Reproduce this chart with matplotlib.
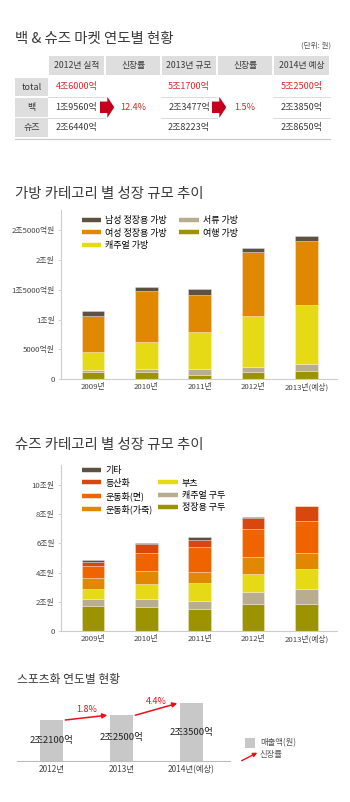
import matplotlib.pyplot as plt
from matplotlib.lines import Line2D
from matplotlib.patches import FancyArrow, Rectangle

plt.rcParams["font.family"] = ["Noto Sans CJK KR", "DejaVu Sans"]

W, H = 350, 802

# --- table data ---
table_cols = ["2012년 실적", "신장률", "2013년 규모", "신장률", "2014년 예상"]
table_rows = ["total", "백", "슈즈"]
sales_2012 = ["4조6000억", "1조9560억", "2조6440억"]
sales_2013 = ["5조1700억", "2조3477억", "2조8223억"]
sales_2014 = ["5조2500억", "2조3850억", "2조8650억"]
growth_rates = ["12.4%", "1.5%"]

# --- bag categories (억원) ---
years = ["2009년", "2010년", "2011년", "2012년", "2013년(예상)"]
bag_travel = [1200, 1170, 720, 1170, 1440]
bag_brief = [390, 500, 1000, 940, 1170]
bag_casual = [2960, 4640, 6260, 8490, 9890]
bag_women = [6080, 8530, 6140, 10720, 10710]
bag_men = [730, 560, 950, 670, 730]
bag_ticks = [0, 5000, 10000, 15000, 20000, 25000]
bag_ticklabels = ["0", "5000억원", "1조원", "1조5000억원", "2조원", "2조5000억원"]

# --- shoe categories (조원) ---
shoe_formal = [1.69, 1.64, 1.50, 1.87, 1.87]
shoe_casual = [0.48, 0.57, 0.57, 0.82, 1.02]
shoe_boots = [0.73, 1.02, 1.23, 1.23, 1.34]
shoe_leather = [0.75, 0.89, 0.72, 1.16, 1.09]
shoe_canvas = [0.79, 1.25, 1.71, 1.91, 2.20]
shoe_hiking = [0.32, 0.57, 0.53, 0.73, 1.02]
shoe_other = [0.12, 0.11, 0.16, 0.11, 0.0]
shoe_ticks = [0, 2, 4, 6, 8, 10]
shoe_ticklabels = ["0", "2조원", "4조원", "6조원", "8조원", "10조원"]

# --- sports shoes (조원) ---
sport_years = ["2012년", "2013년", "2014년(예상)"]
sport_sales = [2.21, 2.25, 2.35]
sport_labels = ["2조2100억", "2조2500억", "2조3500억"]
sport_growth = ["1.8%", "4.4%"]

OLIVE = "#9c9300"
TAN = "#b9ad90"
YELLOW = "#e6d915"
ORANGE = "#e08800"
BRIGHT = "#f06400"
REDOR = "#d8480e"
BROWN = "#5e5142"
RED = "#d42a2a"
TXT = "#3a3a3a"

fig = plt.figure(figsize=(W / 100, H / 100), dpi=100)


def px_axes(left, top, right, bottom):
    return fig.add_axes([left / W, 1 - bottom / H, (right - left) / W, (bottom - top) / H])


ov = fig.add_axes([0, 0, 1, 1])
ov.set_xlim(0, W)
ov.set_ylim(H, 0)
ov.axis("off")

# titles
ov.text(15, 39, "백 & 슈즈 마켓 연도별 현황", fontsize=10.4, color=TXT, va="center")
ov.text(331, 46, "(단위: 원)", fontsize=5.5, color="#555", ha="right", va="center")
ov.text(15, 194, "가방 카테고리 별 성장 규모 추이", fontsize=10.4, color=TXT, va="center")
ov.text(15, 445, "슈즈 카테고리 별 성장 규모 추이", fontsize=10.4, color=TXT, va="center")
ov.text(17, 679, "스포츠화 연도별 현황", fontsize=8.5, color=TXT, va="center")

# table
col_edges = [48, 105, 161, 217, 273, 330]
row_edges = [77, 97, 117.5, 138]
for i, name in enumerate(table_cols):
    x0, x1 = col_edges[i], col_edges[i + 1]
    ov.add_patch(Rectangle((x0 + 0.6, 56), x1 - x0 - 1.2, 19, color="#dedede", lw=0))
    ov.text((x0 + x1) / 2, 65.5, name, fontsize=6.3, color=TXT, ha="center", va="center")
for j, name in enumerate(table_rows):
    y0, y1 = row_edges[j], row_edges[j + 1]
    ov.add_patch(Rectangle((15, y0 + 0.6), 33, y1 - y0 - 1.2, color="#dedede", lw=0))
    ov.text(31.5, (y0 + y1) / 2, name, fontsize=6.5, color=TXT, ha="center", va="center")
    for c, vals in zip([0, 2, 4], [sales_2012, sales_2013, sales_2014]):
        x0, x1 = col_edges[c], col_edges[c + 1]
        ov.text((x0 + x1) / 2, (y0 + y1) / 2, vals[j], fontsize=6.5,
                color=RED if j == 0 else TXT, ha="center", va="center")
        if j < 2:
            ov.plot([x0, x1], [y1, y1], color="#d4d4d4", lw=0.6)
ov.plot([15, 330], [138.5, 138.5], color="#c8c8c8", lw=0.8)
for k, g in enumerate(growth_rates):
    c = 1 + 2 * k
    x0, x1 = col_edges[c], col_edges[c + 1]
    ov.text((x0 + x1) / 2, 107.3, g, fontsize=6.5, color=RED, ha="center", va="center")
    ov.add_patch(FancyArrow(x0 - 5, 107.3, 14.3, 0, width=11.5, head_width=21,
                            head_length=7, length_includes_head=True,
                            color="#c4001c", lw=0))

# bag chart
x = list(range(len(years)))
ax = px_axes(61, 210, 336.7, 379.3)
bottom = [0] * len(years)
bag_series = [("여행 가방", bag_travel, OLIVE), ("서류 가방", bag_brief, TAN),
              ("캐주얼 가방", bag_casual, YELLOW), ("여성 정장용 가방", bag_women, ORANGE),
              ("남성 정장용 가방", bag_men, BROWN)]
for name, vals, col in bag_series:
    ax.bar(x, vals, width=0.426, bottom=bottom, color=col,
           edgecolor=(1, 1, 1, 0.5), linewidth=0.4)
    bottom = [b + v for b, v in zip(bottom, vals)]
ax.set_xlim(-0.6, 4.57)
ax.set_ylim(0, 28340)
ax.set_yticks(bag_ticks)
ax.set_yticklabels(bag_ticklabels)
ax.set_xticks(x)
ax.set_xticklabels(years)

lab_order = ["남성 정장용 가방", "여성 정장용 가방", "캐주얼 가방", "서류 가방", "여행 가방"]
lookup = {n: c for n, _, c in bag_series}
handles = [Line2D([], [], color=lookup[n], lw=3.2, solid_capstyle="butt") for n in lab_order]
ax.legend(handles, lab_order, ncol=2, loc="upper left", bbox_to_anchor=(0.058, 0.99),
          frameon=False, fontsize=6.5, borderpad=0, handlelength=2.2,
          handletextpad=0.45, columnspacing=1.3, labelspacing=0.38)

# shoes chart
ax2 = px_axes(61, 465, 336.7, 631)
bottom = [0] * len(years)
shoe_series = [("정장용 구두", shoe_formal, OLIVE), ("캐주얼 구두", shoe_casual, TAN),
               ("부츠", shoe_boots, YELLOW), ("운동화(가죽)", shoe_leather, ORANGE),
               ("운동화(면)", shoe_canvas, BRIGHT), ("등산화", shoe_hiking, REDOR),
               ("기타", shoe_other, BROWN)]
for name, vals, col in shoe_series:
    ax2.bar(x, vals, width=0.426, bottom=bottom, color=col,
            edgecolor=(1, 1, 1, 0.5), linewidth=0.4)
    bottom = [b + v for b, v in zip(bottom, vals)]
ax2.set_xlim(-0.6, 4.57)
ax2.set_ylim(0, 11.37)
ax2.set_yticks(shoe_ticks)
ax2.set_yticklabels(shoe_ticklabels)
ax2.set_xticks(x)
ax2.set_xticklabels(years)

lookup = {n: c for n, _, c in shoe_series}
lab_order = ["기타", "등산화", "운동화(면)", "운동화(가죽)", "", "부츠", "캐주얼 구두", "정장용 구두"]
handles = [Line2D([], [], color=lookup[n], lw=3.2, solid_capstyle="butt") if n
           else Line2D([], [], lw=0) for n in lab_order]
ax2.legend(handles, lab_order, ncol=2, loc="upper left", bbox_to_anchor=(0.058, 1.02),
           frameon=False, fontsize=6.5, borderpad=0, handlelength=2.2,
           handletextpad=0.45, columnspacing=0.6, labelspacing=0.38)

for a in (ax, ax2):
    a.set_facecolor("none")
    for s in ("top", "right"):
        a.spines[s].set_visible(False)
    for s in ("left", "bottom"):
        a.spines[s].set_color("#cccccc")
        a.spines[s].set_linewidth(0.8)
    a.tick_params(axis="y", length=2, width=0.6, color="#cccccc", pad=2.5,
                  labelsize=5.6, labelcolor="#444")
    a.tick_params(axis="x", length=0, pad=3, labelsize=5.6, labelcolor="#444")

# sports shoes chart
ax3 = px_axes(16.7, 695, 230, 760.7)
sx = list(range(len(sport_years)))
ylo = 1.868
ax3.bar(sx, sport_sales, width=0.324, color="#c8c8c8")
ax3.set_xlim(-0.494, 2.553)
ax3.set_ylim(ylo, ylo + 65.7 / 119)
ax3.set_facecolor("none")
for s in ("top", "right", "left"):
    ax3.spines[s].set_visible(False)
ax3.spines["bottom"].set_color("#bbbbbb")
ax3.spines["bottom"].set_linewidth(0.8)
ax3.set_yticks([])
ax3.set_xticks(sx)
ax3.set_xticklabels(sport_years)
ax3.tick_params(axis="x", length=0, pad=3, labelsize=6, labelcolor="#444")
for i, (v, lab) in enumerate(zip(sport_sales, sport_labels)):
    ax3.text(i, (ylo + v) / 2, lab, fontsize=6.8, color="#222", ha="center", va="center")
for i, g in enumerate(sport_growth):
    ax3.annotate("", xy=(i + 0.8, sport_sales[i + 1]), xytext=(i + 0.2, sport_sales[i]),
                 arrowprops=dict(arrowstyle="-|>", color="#e8101a", lw=1.1,
                                 mutation_scale=7, shrinkA=0, shrinkB=0),
                 annotation_clip=False)
    ax3.text(i + 0.5, (sport_sales[i] + sport_sales[i + 1]) / 2 + 0.065, g,
             fontsize=6.5, color="#e8101a", ha="center", va="center")

# sports legend
ov.add_patch(Rectangle((245, 738.3), 10, 10, color="#c8c8c8", lw=0))
ov.text(260, 742.5, "매출액(원)", fontsize=6, color="#555", va="center")
ov.annotate("", xy=(257.3, 752.7), xytext=(241.7, 760.7),
            arrowprops=dict(arrowstyle="-|>", color="#e8101a", lw=1.0,
                            mutation_scale=6, shrinkA=0, shrinkB=0))
ov.text(260, 754.3, "신장률", fontsize=6, color="#555", va="center")

fig.savefig("out.png", dpi=100)
